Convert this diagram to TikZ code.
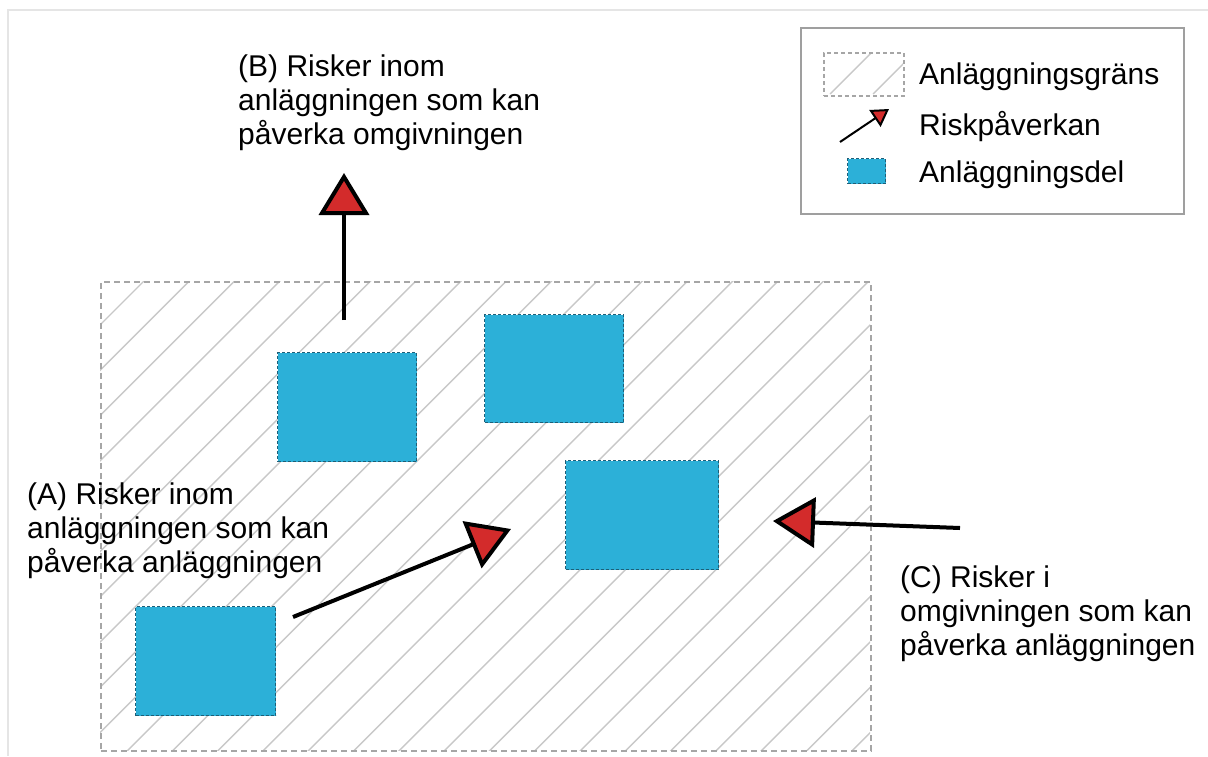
\documentclass[tikz,border=0pt]{standalone}
\usepackage{fontspec}
\setmainfont{Liberation Sans}
\usetikzlibrary{arrows.meta}
\definecolor{partblue}{HTML}{2CB0D8}
\definecolor{partedge}{HTML}{1D5F78}
\definecolor{riskred}{HTML}{D32B2B}
\definecolor{hatchgray}{HTML}{C8C8C8}
\tikzset{
  part/.style={fill=partblue, draw=partedge, line width=1.3pt, dash pattern=on 3pt off 2pt},
  boundary/.style={draw=gray!70, line width=1.8pt, dash pattern=on 6pt off 4pt},
  hatch/.style={draw=hatchgray, line width=1.4pt},
  risk/.style={line width=4pt, draw=black, -{Triangle[length=42pt,width=50pt,line width=4pt,fill=riskred]}},
  label/.style={inner sep=0pt, align=left, font=\fontsize{30}{34}\selectfont},
  legtext/.style={inner sep=0pt, font=\fontsize{30}{34}\selectfont, anchor=base west},
}
\begin{document}
\begin{tikzpicture}[x=1pt,y=-1pt]
\useasboundingbox (0,0) rectangle (1208,756);
% page frame
\draw[gray!20, line width=1.5pt] (8,756) -- (8,10) -- (1208,10);
% site boundary with hatch
\begin{scope}
  \clip (100,281) rectangle (870,750);
  \foreach \k in {-12,...,30} {
    \pgfmathsetmacro{\c}{425+45.3*\k}
    \draw[hatch] (\c-150,150) -- (\c-850,850);
  }
\end{scope}
\node[boundary, minimum width=770pt, minimum height=469pt, inner sep=0pt, anchor=north west] (site) at (100,281) {};
% plant parts
\node[part, minimum width=139pt, minimum height=109pt, inner sep=0pt, anchor=north west] (p1) at (277,352) {};
\node[part, minimum width=139pt, minimum height=108pt, inner sep=0pt, anchor=north west] (p2) at (484,314) {};
\node[part, minimum width=153pt, minimum height=109pt, inner sep=0pt, anchor=north west] (p3) at (565,460) {};
\node[part, minimum width=140pt, minimum height=109pt, inner sep=0pt, anchor=north west] (p4) at (135,606) {};
% arrows
\coordinate (bt) at (344,320);
\coordinate (bh) at (344,173);
\coordinate (at) at (293,617);
\coordinate (ah) at (511,529);
\coordinate (ct) at (960,528);
\coordinate (ch) at (773,521);
\draw[risk] (bt) -- (bh);
\draw[risk] (at) -- (ah);
\draw[risk] (ct) -- (ch);
% labels
\node[label, anchor=north west] (lb) at (238,55) {(B) Risker inom\\anläggningen som kan\\påverka omgivningen};
\node[label, anchor=north west] (la) at (27,483) {(A) Risker inom\\anläggningen som kan\\påverka anläggningen};
\node[label, anchor=north west] (lc) at (900,566) {(C) Risker i\\omgivningen som kan\\påverka anläggningen};
% legend
\node[draw=gray!75, line width=2pt, minimum width=383pt, minimum height=186pt, inner sep=0pt, anchor=north west] (legend) at (800,27) {};
\begin{scope}
  \clip (823,52) rectangle (903,95);
  \draw[hatch] (874,50) -- (830,94);
  \draw[hatch] (917,50) -- (873,94);
\end{scope}
\node[boundary, line width=1.5pt, dash pattern=on 4pt off 3pt, minimum width=80pt, minimum height=43pt, inner sep=0pt, anchor=north west] (legsite) at (823,52) {};
\coordinate (lat) at (840,142);
\coordinate (lah) at (889,109);
\draw[line width=2pt, -{Triangle[length=17pt,width=20pt,line width=2pt,fill=riskred]}] (lat) -- (lah);
\node[part, minimum width=38pt, minimum height=25pt, inner sep=0pt, anchor=north west] (legpart) at (847,158) {};
\node[legtext] (t1) at (919,84) {Anläggningsgräns};
\node[legtext] (t2) at (919,135) {Riskpåverkan};
\node[legtext] (t3) at (919,182) {Anläggningsdel};
\end{tikzpicture}
\end{document}
